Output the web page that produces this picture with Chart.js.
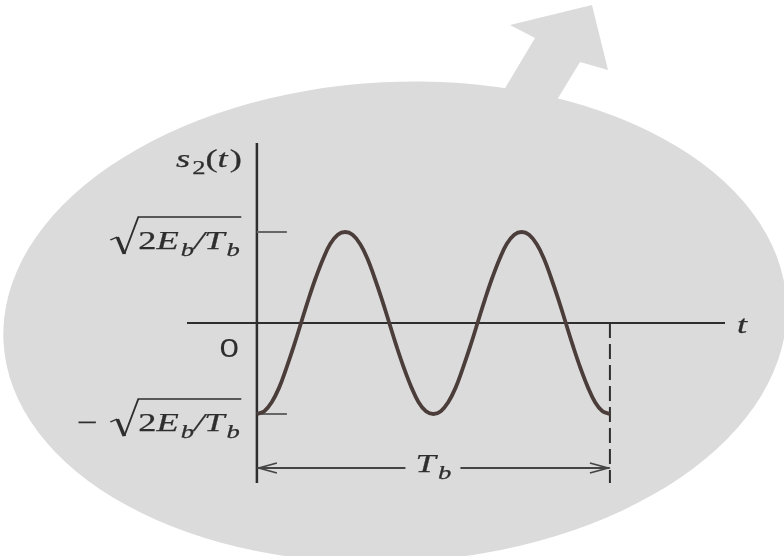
<!DOCTYPE html>
<html>
<head>
<meta charset="utf-8">
<title>s2(t)</title>
<script src="https://cdn.jsdelivr.net/npm/chart.js@4.4.1/dist/chart.umd.min.js"></script>
<style>
  html, body { margin: 0; padding: 0; background: #fff; }
  #wrap { width: 784px; height: 556px; }
</style>
</head>
<body>
<div id="wrap"><canvas id="myChart" width="784" height="556"></canvas></div>
<script>
// time in units of T_b, and the signal in units of sqrt(2Eb/Tb)
const tValues = [0, 0.021, 0.042, 0.063, 0.083, 0.104, 0.125, 0.146, 0.167, 0.188, 0.208, 0.229,
  0.25, 0.271, 0.292, 0.313, 0.333, 0.354, 0.375, 0.396, 0.417, 0.438, 0.458, 0.479,
  0.5, 0.521, 0.542, 0.563, 0.583, 0.604, 0.625, 0.646, 0.667, 0.688, 0.708, 0.729,
  0.75, 0.771, 0.792, 0.813, 0.833, 0.854, 0.875, 0.896, 0.917, 0.938, 0.958, 0.979, 1];
const s2Values = [-1, -0.97, -0.87, -0.71, -0.5, -0.26, 0, 0.26, 0.5, 0.71, 0.87, 0.97,
  1, 0.97, 0.87, 0.71, 0.5, 0.26, 0, -0.26, -0.5, -0.71, -0.87, -0.97,
  -1, -0.97, -0.87, -0.71, -0.5, -0.26, 0, 0.26, 0.5, 0.71, 0.87, 0.97,
  1, 0.97, 0.87, 0.71, 0.5, 0.26, 0, -0.26, -0.5, -0.71, -0.87, -0.97, -1];

const yTickValues = [-1, 0, 1];
const yTickLabels = ['−√2E_b/T_b', '0', '√2E_b/T_b'];
const yTitle = 's_2(t)';
const xTitle = 't';
const spanLabel = 'T_b';

const SERIF = '"Liberation Serif", "DejaVu Serif", serif';
const SANS = '"Liberation Sans", Arial, sans-serif';
const SX = 1.4;      // lettering is a bit wide
const FONT = 26;
const INK = '#2e2e2e';

var points = []
for (var i = 0; i < tValues.length; i++) {
  points.push({ x: tValues[i], y: s2Values[i] })
}

// split a little math string into glyph tokens
function tokens(str) {
  var out = []
  for (var i = 0; i < str.length; i++) {
    var c = str[i]
    if (c === '√') { out.push({ root: true }); continue }
    if (c === '_') {
      i++
      out.push({ ch: str[i], sub: true, italic: /[A-Za-z]/.test(str[i]) })
      continue
    }
    out.push({ ch: c, italic: /[A-Za-z\/]/.test(c), sub: false, sans: str === '0' })
  }
  return out
}

function fontFor(tok, size) {
  return (tok.italic ? 'italic ' : '') + (tok.sub ? Math.round(size * 0.72) : size) + 'px ' + (tok.sans ? SANS : SERIF)
}

function tokWidth(ctx, tok, size) {
  if (tok.root) return 20
  ctx.font = fontFor(tok, size)
  var w = ctx.measureText(tok.ch).width
  if (tok.ch === '−') w += 9
  if (tok.italic && !tok.sub && tok.ch !== '/') w += 1.5   // italic correction
  return w
}

// draw a math string; align is 'right' | 'center' | 'left'
function drawMath(ctx, str, x, baseline, size, align) {
  var toks = tokens(str)
  var widths = toks.map(function (t) { return tokWidth(ctx, t, size) })
  var total = widths.reduce(function (a, b) { return a + b }, 0)
  ctx.save()
  ctx.translate(x, baseline)
  ctx.scale(SX, 1)
  var cx = align === 'right' ? -total : align === 'center' ? -total / 2 : 0
  ctx.fillStyle = INK
  ctx.strokeStyle = INK
  ctx.textBaseline = 'alphabetic'
  ctx.textAlign = 'left'
  for (var i = 0; i < toks.length; i++) {
    var t = toks[i]
    if (t.root) {
      var rest = 0
      for (var j = i + 1; j < toks.length; j++) rest += widths[j]
      ctx.lineJoin = 'miter'
      ctx.beginPath()
      ctx.moveTo(cx, -9)
      ctx.lineTo(cx + 5, -12)
      ctx.lineWidth = 1.4
      ctx.stroke()
      ctx.beginPath()
      ctx.moveTo(cx + 5, -12)
      ctx.lineTo(cx + 10, 5)
      ctx.lineWidth = 2.6
      ctx.stroke()
      ctx.beginPath()
      ctx.moveTo(cx + 10, 5)
      ctx.lineTo(cx + 20, -32)
      ctx.lineTo(cx + 20 + rest + 1, -32)
      ctx.lineWidth = 1.3
      ctx.stroke()
    } else {
      ctx.font = fontFor(t, size)
      var dy = t.sub ? 7 : 0
      ctx.fillText(t.ch, cx, dy)
      if (!t.sans) {
        ctx.lineWidth = 0.25
        ctx.strokeText(t.ch, cx, dy)
      }
    }
    cx += widths[i]
  }
  ctx.restore()
}

// page background: grey oval with an arrow coming out of its top
var backdrop = {
  id: 'backdrop',
  beforeDraw: function (chart) {
    var ctx = chart.ctx
    ctx.save()
    ctx.fillStyle = '#fff'
    ctx.fillRect(0, 0, chart.width, chart.height)
    ctx.fillStyle = '#dbdbdb'
    ctx.beginPath()
    ctx.ellipse(395, 322, 392, 240, -0.05, 0, Math.PI * 2)
    ctx.fill()
    ctx.beginPath()
    ctx.moveTo(498, 100)
    ctx.lineTo(535, 38)
    ctx.lineTo(510, 25)
    ctx.lineTo(592, 5)
    ctx.lineTo(608, 70)
    ctx.lineTo(580, 62)
    ctx.lineTo(552, 108)
    ctx.closePath()
    ctx.fill()
    ctx.restore()
  }
}

// axes, ticks and the T_b span
var axes = {
  id: 'axes',
  beforeDatasetsDraw: function (chart) {
    var ctx = chart.ctx
    var xs = chart.scales.x, ys = chart.scales.y
    var a = chart.chartArea
    var x0 = xs.getPixelForValue(0), x1 = xs.getPixelForValue(1)
    var y0 = ys.getPixelForValue(0)
    ctx.save()
    ctx.strokeStyle = INK
    ctx.lineWidth = 2
    ctx.beginPath()
    ctx.moveTo(a.left, y0); ctx.lineTo(a.right, y0)
    ctx.stroke()
    ctx.lineWidth = 2.5
    ctx.beginPath()
    ctx.moveTo(x0, a.top); ctx.lineTo(x0, a.bottom)
    ctx.stroke()

    // small marks at +/- amplitude
    ctx.strokeStyle = '#666'
    ctx.lineWidth = 2
    yTickValues.forEach(function (v) {
      if (v === 0) return
      var y = ys.getPixelForValue(v)
      ctx.beginPath()
      ctx.moveTo(x0, y); ctx.lineTo(x0 + 30, y)
      ctx.stroke()
    })

    // end of the bit interval
    ctx.strokeStyle = INK
    ctx.lineWidth = 2
    ctx.setLineDash([15, 6])
    ctx.beginPath()
    ctx.moveTo(x1, y0); ctx.lineTo(x1, a.bottom)
    ctx.stroke()
    ctx.setLineDash([])

    // T_b span arrow
    var ya = a.bottom - 15
    var mid = (x0 + x1) / 2
    ctx.strokeStyle = '#444'
    ctx.lineWidth = 1.8
    ctx.beginPath()
    ctx.moveTo(x0, ya); ctx.lineTo(mid - 28, ya)
    ctx.moveTo(mid + 27, ya); ctx.lineTo(x1, ya)
    ctx.moveTo(x0 + 20, ya - 5); ctx.lineTo(x0 + 2, ya); ctx.lineTo(x0 + 20, ya + 5)
    ctx.moveTo(x1 - 20, ya - 5); ctx.lineTo(x1 - 2, ya); ctx.lineTo(x1 - 20, ya + 5)
    ctx.stroke()
    ctx.restore()
  },
  afterDraw: function (chart) {
    var ctx = chart.ctx
    var xs = chart.scales.x, ys = chart.scales.y
    var a = chart.chartArea
    var x0 = xs.getPixelForValue(0), x1 = xs.getPixelForValue(1)
    yTickValues.forEach(function (v, i) {
      var y = ys.getPixelForValue(v)
      if (v === 0) drawMath(ctx, yTickLabels[i], x0 - 18, y + 34, 25, 'right')
      else drawMath(ctx, yTickLabels[i], x0 - 17, y + 17, FONT, 'right')
    })
    drawMath(ctx, yTitle, x0 - 15, a.top + 24, FONT, 'right')
    drawMath(ctx, xTitle, a.right + 12, ys.getPixelForValue(0) + 10, FONT, 'left')
    drawMath(ctx, spanLabel, (x0 + x1) / 2, a.bottom - 11, FONT, 'center')
  }
}

var myChart = document.getElementById('myChart').getContext('2d')

var chart = new Chart(myChart, {
  type: 'line',
  data: {
    datasets: [
      {
        data: points,
        borderColor: '#4b3d39',
        borderWidth: 3.8,
        pointRadius: 0,
        fill: false,
        tension: 0.4
      }
    ]
  },
  options: {
    responsive: false,
    animation: false,
    layout: { padding: { left: 187, right: 59, top: 143, bottom: 73 } },
    plugins: { legend: { display: false }, tooltip: { enabled: false } },
    scales: {
      x: { type: 'linear', min: -0.198, max: 1.326, display: false },
      y: { type: 'linear', min: -1.758, max: 1.978, display: false }
    }
  },
  plugins: [backdrop, axes]
})
</script>
</body>
</html>
